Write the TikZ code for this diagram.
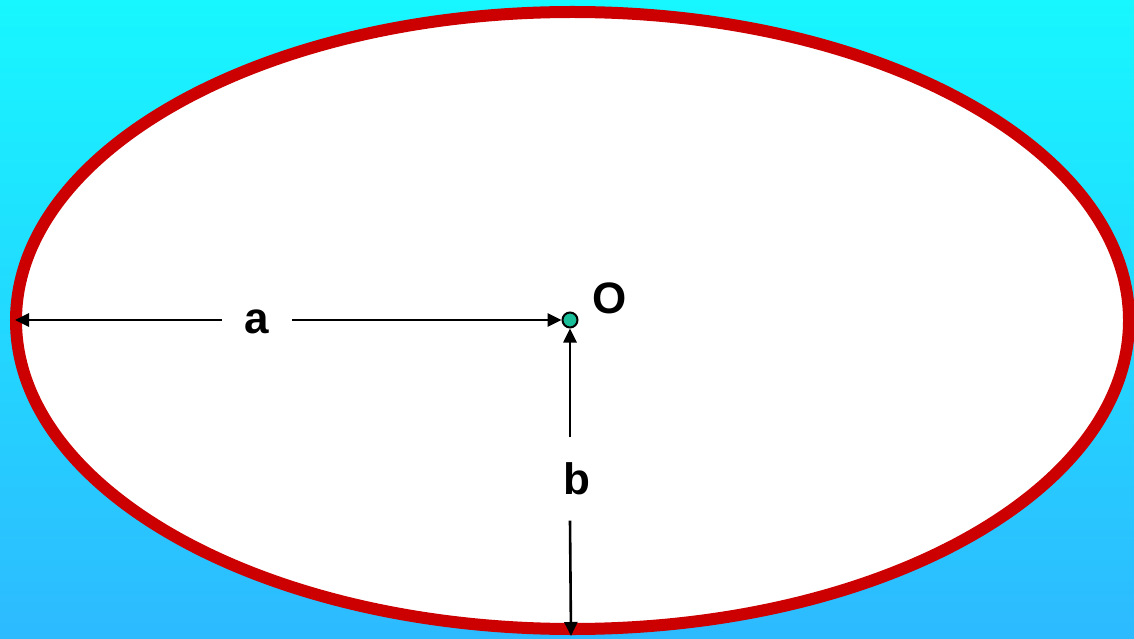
\documentclass[tikz,border=0pt]{standalone}
\usepackage{fontspec}
\setmainfont{Liberation Sans}
\usepackage{tikz}
\usetikzlibrary{arrows.meta, positioning, calc}
\definecolor{skytop}{HTML}{17F7FF}
\definecolor{skybottom}{HTML}{2DBAFF}
\definecolor{rimred}{HTML}{CC0000}
\definecolor{dotgreen}{HTML}{1ABF9A}
\tikzset{
  axislabel/.style={font=\fontsize{44}{52}\selectfont\bfseries, inner sep=0pt},
  dimarrow/.style={line width=2.6pt, -{Triangle[length=14pt,width=13pt]}},
}

\begin{document}
\begin{tikzpicture}[x=1pt, y=1pt]
    \useasboundingbox (0,0) rectangle (1134,638);
    \shade[top color=skytop, bottom color=skybottom] (0,0) rectangle (1134,638);
    % the ellipse
    \draw[rimred, fill=white, line width=12pt] (572.5,317.5) ellipse [x radius=556.5, y radius=308.5];
    % centre and labels
    \node[circle, draw=black, fill=dotgreen, line width=2pt, minimum size=15pt, inner sep=0pt] (O) at (570,318) {};
    \node[axislabel] (Olabel) at (610,340) {O};
    \node[axislabel, minimum width=70pt] (a) at (257,316) {a};
    \node[axislabel, minimum height=83pt] (b) at (577,159) {b};
    \coordinate (aend) at (15,318);
    \coordinate (bend) at (571,2);
    % semi-axes
    \draw[dimarrow] (a.east |- O) -- (O.west);
    \draw[dimarrow] (a.west |- O) -- (aend);
    \draw[dimarrow] (O.south |- b.north) -- (O.south);
    \draw[dimarrow] (O.south |- b.south) -- (bend);
\end{tikzpicture}
\end{document}
